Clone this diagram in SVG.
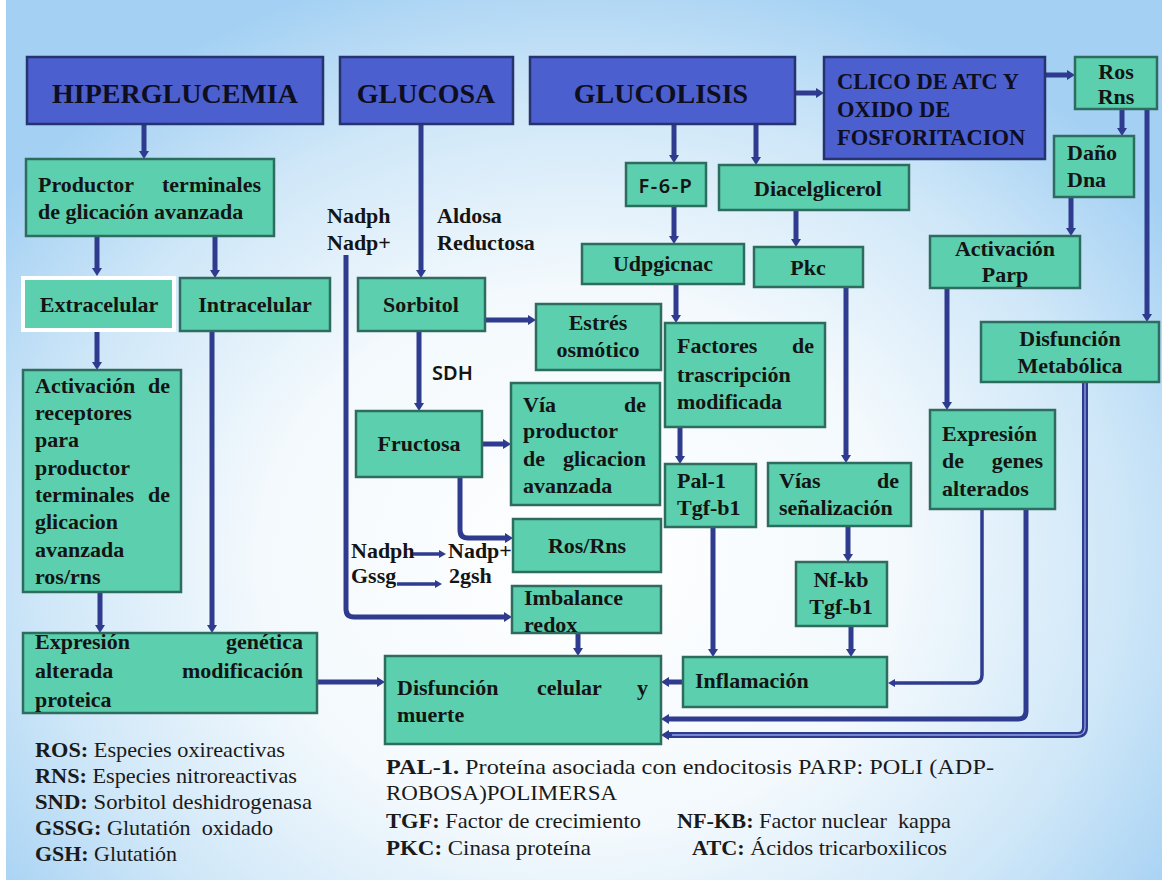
<svg xmlns="http://www.w3.org/2000/svg" width="1162" height="886" viewBox="0 0 1162 886">
<defs>
<radialGradient id="bg" gradientUnits="userSpaceOnUse" cx="580" cy="560" r="720" gradientTransform="translate(580 560) scale(1 0.85) translate(-580 -560)">
<stop offset="0" stop-color="#ffffff"/>
<stop offset="0.45" stop-color="#f3f9fd"/>
<stop offset="0.75" stop-color="#cfe7f8"/>
<stop offset="1" stop-color="#a3d0f3"/>
</radialGradient>
<marker id="ah" viewBox="0 0 8 10" markerWidth="8" markerHeight="10" refX="2" refY="5" markerUnits="userSpaceOnUse" orient="auto">
<path d="M0,0 L8,5 L0,10 z" fill="#2e3b8e"/>
</marker>
<marker id="ahs" viewBox="0 0 7 8" markerWidth="7" markerHeight="8" refX="2" refY="4" markerUnits="userSpaceOnUse" orient="auto">
<path d="M0,0 L7,4 L0,8 z" fill="#2e3b8e"/>
</marker>
<style>
.g{fill:#5ccfae;stroke:#2e6c5f;stroke-width:2.5}
.b{fill:#4b5fcf;stroke:#26336f;stroke-width:2.5}
.t{font-family:'Liberation Serif','DejaVu Serif','Noto Serif',serif;font-weight:bold;font-size:22px;fill:#141414}
.tt{font-size:28px;fill:#0e0e1e}
.tc{font-size:22.5px;fill:#0e0e1e}
.s{font-family:'Noto Sans','DejaVu Sans',sans-serif;font-weight:600;font-size:20px;fill:#141414}
.m{text-anchor:middle}
.e{text-anchor:end}
.c{stroke:#2e3b8e;stroke-width:5;fill:none;marker-end:url(#ah)}
.c3{stroke:#2e3b8e;stroke-width:3.5;fill:none;marker-end:url(#ahs)}
.lg{font-family:'Liberation Serif','DejaVu Serif','Noto Serif',serif;font-size:21.5px;fill:#1a1a1a}
.bd{font-weight:bold}
</style>
</defs>
<rect x="0" y="0" width="1162" height="886" fill="url(#bg)"/>
<rect x="0" y="0" width="6" height="886" fill="#ffffff"/>
<rect x="0" y="880" width="1162" height="6" fill="#ffffff"/>

<g id="connectors">
<path class="c" d="M144,124 V153"/>
<path class="c" d="M97,236 V270"/>
<path class="c" d="M215,236 V272"/>
<path class="c" d="M97,332 V364"/>
<path class="c" d="M100,592 V627"/>
<path class="c" d="M212,331 V627"/>
<path class="c" d="M317,682 H379"/>
<path class="c" d="M421,124 V272"/>
<path class="c" d="M346,255 V609 Q346,617 354,617 H506"/>
<path class="c" d="M485,320 H530"/>
<path class="c" d="M419,331 V405"/>
<path class="c" d="M482,444 H505"/>
<path class="c" d="M460,477 V530 Q460,538 468,538 H507"/>
<path class="c3" d="M413,554 H441"/>
<path class="c3" d="M397,584 H437"/>
<path class="c" d="M578,633 V650"/>
<path class="c" d="M795,93 H818"/>
<path class="c" d="M1045,75 H1069"/>
<path class="c" d="M1122,109 V130"/>
<path class="c" d="M1147,109 V316"/>
<path class="c" d="M1071,197 V230"/>
<path class="c" d="M674,124 V157"/>
<path class="c" d="M756,124 V159"/>
<path class="c" d="M674,206 V238"/>
<path class="c" d="M796,210 V241"/>
<path class="c" d="M676,284 V317"/>
<path class="c" d="M846,287 V457"/>
<path class="c" d="M680,427 V458"/>
<path class="c" d="M848,526 V556"/>
<path class="c" d="M713,527 V651"/>
<path class="c" d="M851,626 V651"/>
<path class="c" d="M683,682 H667"/>
<path class="c" d="M947,288 V404"/>
<path class="c3" d="M982,509 V675 Q982,683 974,683 H893"/>
<path class="c" d="M1026,509 V711 Q1026,719 1018,719 H667"/>
<path d="M1085,382 V727 Q1085,735 1077,735 H667" fill="none" stroke="#2e3b8e" stroke-width="6" marker-end="url(#ah)"/>
<path d="M1085,382 V727 Q1085,735 1077,735 H672" fill="none" stroke="#8fa3e6" stroke-width="1.3"/>
</g>

<g id="hiperglucemia"><rect class="b" x="27" y="57" width="296" height="67"/><text class="t tt m" x="175" y="103">HIPERGLUCEMIA</text></g>
<g id="glucosa"><rect class="b" x="340" y="57" width="173" height="67"/><text class="t tt m" x="426" y="103">GLUCOSA</text></g>
<g id="glucolisis"><rect class="b" x="530" y="57" width="265" height="67"/><text class="t tt m" x="661" y="103">GLUCOLISIS</text></g>
<g id="ciclo-atc"><rect class="b" x="824" y="57" width="221" height="102"/>
<text class="t tc" x="837" y="89">CLICO DE ATC Y</text>
<text class="t tc" x="837" y="117">OXIDO DE</text>
<text class="t tc" x="837" y="145">FOSFORITACION</text></g>

<g id="ros-rns-top"><rect class="g" x="1075" y="57" width="82" height="52"/><text class="t m" x="1116" y="79">Ros</text><text class="t m" x="1116" y="104">Rns</text></g>
<g id="dano-dna"><rect class="g" x="1054" y="136" width="80" height="61"/><text class="t" x="1067" y="160">Daño</text><text class="t" x="1067" y="187">Dna</text></g>

<g id="productor"><rect class="g" x="26" y="159" width="248" height="77"/>
<text class="t" x="38" y="192">Productor</text><text class="t e" x="261" y="192">terminales</text>
<text class="t" x="38" y="219">de glicación avanzada</text></g>

<g id="extracelular"><rect x="23" y="278" width="151" height="52" fill="#5ccfae" stroke="#ffffff" stroke-width="4"/><text class="t m" x="99" y="312">Extracelular</text></g>
<g id="intracelular"><rect class="g" x="180" y="278" width="150" height="53"/><text class="t m" x="255" y="312">Intracelular</text></g>
<g id="sorbitol"><rect class="g" x="358" y="278" width="127" height="53"/><text class="t m" x="421" y="312">Sorbitol</text></g>

<g id="f6p"><rect class="g" x="626" y="163" width="80" height="43"/><text class="s m" x="666" y="193" letter-spacing="1.5">F-6-P</text></g>
<g id="diacelglicerol"><rect class="g" x="719" y="165" width="190" height="45"/><text class="t m" x="818" y="196">Diacelglicerol</text></g>
<g id="udpgicnac"><rect class="g" x="582" y="244" width="162" height="40"/><text class="t m" x="663" y="271">Udpgicnac</text></g>
<g id="pkc"><rect class="g" x="754" y="247" width="109" height="40"/><text class="t m" x="808" y="275">Pkc</text></g>
<g id="activacion-parp"><rect class="g" x="930" y="236" width="150" height="52"/><text class="t m" x="1005" y="256">Activación</text><text class="t m" x="1005" y="282">Parp</text></g>

<g id="estres"><rect class="g" x="536" y="304" width="125" height="66"/><text class="t m" x="598" y="330">Estrés</text><text class="t m" x="598" y="357">osmótico</text></g>
<g id="factores"><rect class="g" x="665" y="323" width="160" height="104"/>
<text class="t" x="677" y="353">Factores</text><text class="t e" x="814" y="353">de</text>
<text class="t" x="677" y="382">trascripción</text>
<text class="t" x="677" y="409">modificada</text></g>
<g id="disfuncion-metabolica"><rect class="g" x="981" y="322" width="178" height="60"/><text class="t m" x="1070" y="346">Disfunción</text><text class="t m" x="1070" y="373">Metabólica</text></g>

<g id="activacion-receptores"><rect class="g" x="23" y="370" width="158" height="222"/>
<text class="t" x="35" y="393">Activación</text><text class="t e" x="170" y="393">de</text>
<text class="t" x="35" y="420">receptores</text>
<text class="t" x="35" y="447">para</text>
<text class="t" x="35" y="475">productor</text>
<text class="t" x="35" y="502">terminales</text><text class="t e" x="170" y="502">de</text>
<text class="t" x="35" y="529">glicacion</text>
<text class="t" x="35" y="557">avanzada</text>
<text class="t" x="35" y="584">ros/rns</text></g>

<g id="fructosa"><rect class="g" x="356" y="411" width="126" height="66"/><text class="t m" x="419" y="451">Fructosa</text></g>
<g id="via-productor"><rect class="g" x="511" y="383" width="149" height="122"/>
<text class="t" x="523" y="412">Vía</text><text class="t e" x="646" y="412">de</text>
<text class="t" x="523" y="438">productor</text>
<text class="t" x="523" y="466">de</text><text class="t e" x="646" y="466">glicacion</text>
<text class="t" x="523" y="493">avanzada</text></g>
<g id="expresion-genes"><rect class="g" x="930" y="410" width="125" height="99"/>
<text class="t" x="942" y="441">Expresión</text>
<text class="t" x="942" y="468">de</text><text class="t e" x="1043" y="468">genes</text>
<text class="t" x="942" y="496">alterados</text></g>
<g id="pal1"><rect class="g" x="665" y="464" width="91" height="63"/><text class="t" x="677" y="488">Pal-1</text><text class="t" x="677" y="515">Tgf-b1</text></g>
<g id="vias-senalizacion"><rect class="g" x="768" y="463" width="143" height="63"/>
<text class="t" x="779" y="488">Vías</text><text class="t e" x="899" y="488">de</text>
<text class="t" x="779" y="515">señalización</text></g>
<g id="ros-rns"><rect class="g" x="513" y="519" width="148" height="53"/><text class="t m" x="587" y="553">Ros/Rns</text></g>
<g id="nfkb"><rect class="g" x="796" y="562" width="91" height="64"/><text class="t m" x="841" y="587">Nf-kb</text><text class="t m" x="841" y="614">Tgf-b1</text></g>
<g id="imbalance"><rect class="g" x="512" y="586" width="149" height="47"/><text class="t" x="524" y="605">Imbalance</text><text class="t" x="524" y="632">redox</text></g>
<g id="expresion-genetica"><rect class="g" x="23" y="633" width="294" height="80"/>
<text class="t" x="35" y="649">Expresión</text><text class="t e" x="303" y="649">genética</text>
<text class="t" x="35" y="678">alterada</text><text class="t e" x="303" y="678">modificación</text>
<text class="t" x="35" y="707">proteica</text></g>
<g id="disfuncion-celular"><rect class="g" x="385" y="656" width="276" height="88"/>
<text class="t" x="397" y="695">Disfunción</text><text class="t" x="537" y="695">celular</text><text class="t e" x="648" y="695">y</text>
<text class="t" x="397" y="722">muerte</text></g>
<g id="inflamacion"><rect class="g" x="683" y="657" width="204" height="50"/><text class="t" x="695" y="688">Inflamación</text></g>

<g id="labels">
<text class="t" x="327" y="223">Nadph</text>
<text class="t" x="327" y="250">Nadp+</text>
<text class="t" x="437" y="223">Aldosa</text>
<text class="t" x="437" y="250">Reductosa</text>
<text class="s" x="432" y="380" font-weight="500">SDH</text>
<text class="t" x="351" y="558">Nadph</text>
<text class="t" x="448" y="558">Nadp+</text>
<text class="t" x="351" y="583">Gssg</text>
<text class="t" x="449" y="583">2gsh</text>
</g>

<g id="legend">
<text class="lg" x="35" y="757" textLength="250" lengthAdjust="spacingAndGlyphs"><tspan class="bd">ROS:</tspan> Especies oxireactivas</text>
<text class="lg" x="35" y="783" textLength="262" lengthAdjust="spacingAndGlyphs"><tspan class="bd">RNS:</tspan> Especies nitroreactivas</text>
<text class="lg" x="35" y="809" textLength="277" lengthAdjust="spacingAndGlyphs"><tspan class="bd">SND:</tspan> Sorbitol deshidrogenasa</text>
<text class="lg" x="35" y="835" textLength="238" lengthAdjust="spacingAndGlyphs" xml:space="preserve"><tspan class="bd">GSSG:</tspan> Glutatión  oxidado</text>
<text class="lg" x="35" y="861" textLength="142" lengthAdjust="spacingAndGlyphs"><tspan class="bd">GSH:</tspan> Glutatión</text>
<text class="lg" x="386" y="774" textLength="608" lengthAdjust="spacingAndGlyphs"><tspan class="bd">PAL-1.</tspan> Proteína asociada con endocitosis PARP: POLI (ADP-</text>
<text class="lg" x="386" y="800" textLength="231" lengthAdjust="spacingAndGlyphs">ROBOSA)POLIMERSA</text>
<text class="lg" x="386" y="828" textLength="255" lengthAdjust="spacingAndGlyphs"><tspan class="bd">TGF:</tspan> Factor de crecimiento</text>
<text class="lg" x="677" y="828" textLength="274" lengthAdjust="spacingAndGlyphs" xml:space="preserve"><tspan class="bd">NF-KB:</tspan> Factor nuclear  kappa</text>
<text class="lg" x="386" y="855" textLength="205" lengthAdjust="spacingAndGlyphs"><tspan class="bd">PKC:</tspan> Cinasa proteína</text>
<text class="lg" x="692" y="855" textLength="255" lengthAdjust="spacingAndGlyphs"><tspan class="bd">ATC:</tspan> Ácidos tricarboxilicos</text>
</g>
</svg>
